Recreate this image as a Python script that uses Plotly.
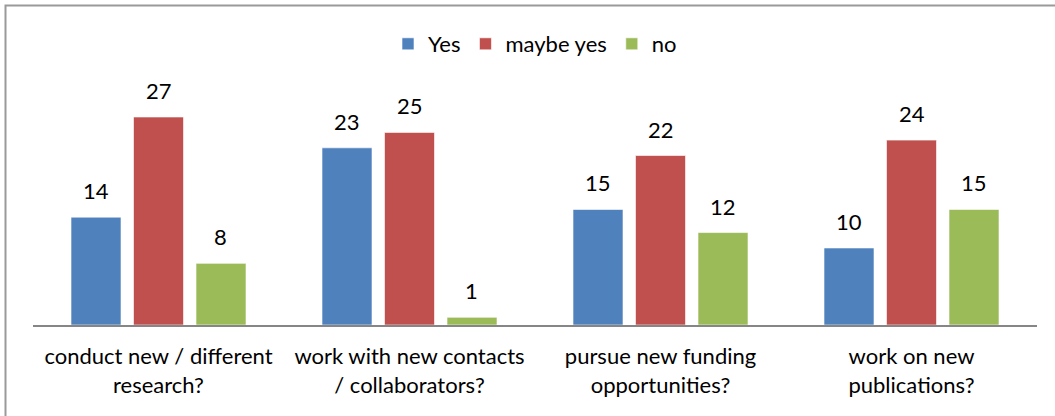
"""Grouped bar chart: planned outcomes (Yes / maybe yes / no)."""
import plotly.graph_objects as go

# categories (two-line tick labels)
categories = [
    "conduct new / different<br>research?",
    "work with new contacts<br>/ collaborators?",
    "pursue new funding<br>opportunities?",
    "work on new<br>publications?",
]
series_names = ["Yes", "maybe yes", "no"]
yes_vals = [14, 23, 15, 10]
maybe_vals = [27, 25, 22, 24]
no_vals = [8, 1, 12, 15]

COLORS = ["#4F81BD", "#C0504D", "#9BBB59"]
FONT = "Lato, Carlito, Calibri, sans-serif"

W, H = 1055, 416
M_L, M_R, M_T, M_B = 33, 18, 60, 91
BARGAP, GROUPGAP = 0.253, 0.2
PW, PH = W - M_L - M_R, H - M_T - M_B

fig = go.Figure()
for name, vals, col in zip(series_names, [yes_vals, maybe_vals, no_vals], COLORS):
    fig.add_trace(go.Bar(
        x=categories, y=vals, name=name,
        marker=dict(color=col, line=dict(color="rgba(255,255,255,0.6)", width=1)),
        hoverinfo="x+y+name"))

# value labels above bars (offset per series inside the group)
cat_w = PW / len(categories)
slot = cat_w * (1 - BARGAP) / len(series_names)
for k, vals in enumerate([yes_vals, maybe_vals, no_vals]):
    shift = (k - 1) * slot
    for c, v in zip(categories, vals):
        fig.add_annotation(x=c, y=v, text=str(v), showarrow=False,
                           xshift=shift, yshift=11, yanchor="bottom",
                           font=dict(size=22, color="#000000", family=FONT))

# outer chart border (right/bottom edges fall outside the frame)
fig.add_shape(type="rect", xref="paper", yref="paper",
              x0=(5.5 - M_L) / PW, x1=(W + 5 - M_L) / PW,
              y0=(M_B - H - 5) / PH, y1=1 + (M_T - 5.5) / PH,
              line=dict(color="#9A9A9A", width=2))

fig.update_layout(
    width=W, height=H,
    margin=dict(l=M_L, r=M_R, t=M_T, b=M_B),
    barmode="group", bargap=BARGAP, bargroupgap=GROUPGAP,
    plot_bgcolor="white", paper_bgcolor="white",
    font=dict(family=FONT, size=22, color="#000000"),
    legend=dict(orientation="h", x=0.5, xanchor="center",
                y=1 + (M_T - 44) / PH, yanchor="middle",
                font=dict(size=22), itemwidth=30, traceorder="normal"),
    xaxis=dict(showline=True, linecolor="#868686", linewidth=2, ticks="",
               tickfont=dict(size=22), ticklabelstandoff=11, showgrid=False),
    yaxis=dict(range=[0, 34.4], visible=False, showgrid=False),
)

fig.write_html("out.html", config={"displayModeBar": False},
               post_script="document.body.style.margin='0';")
